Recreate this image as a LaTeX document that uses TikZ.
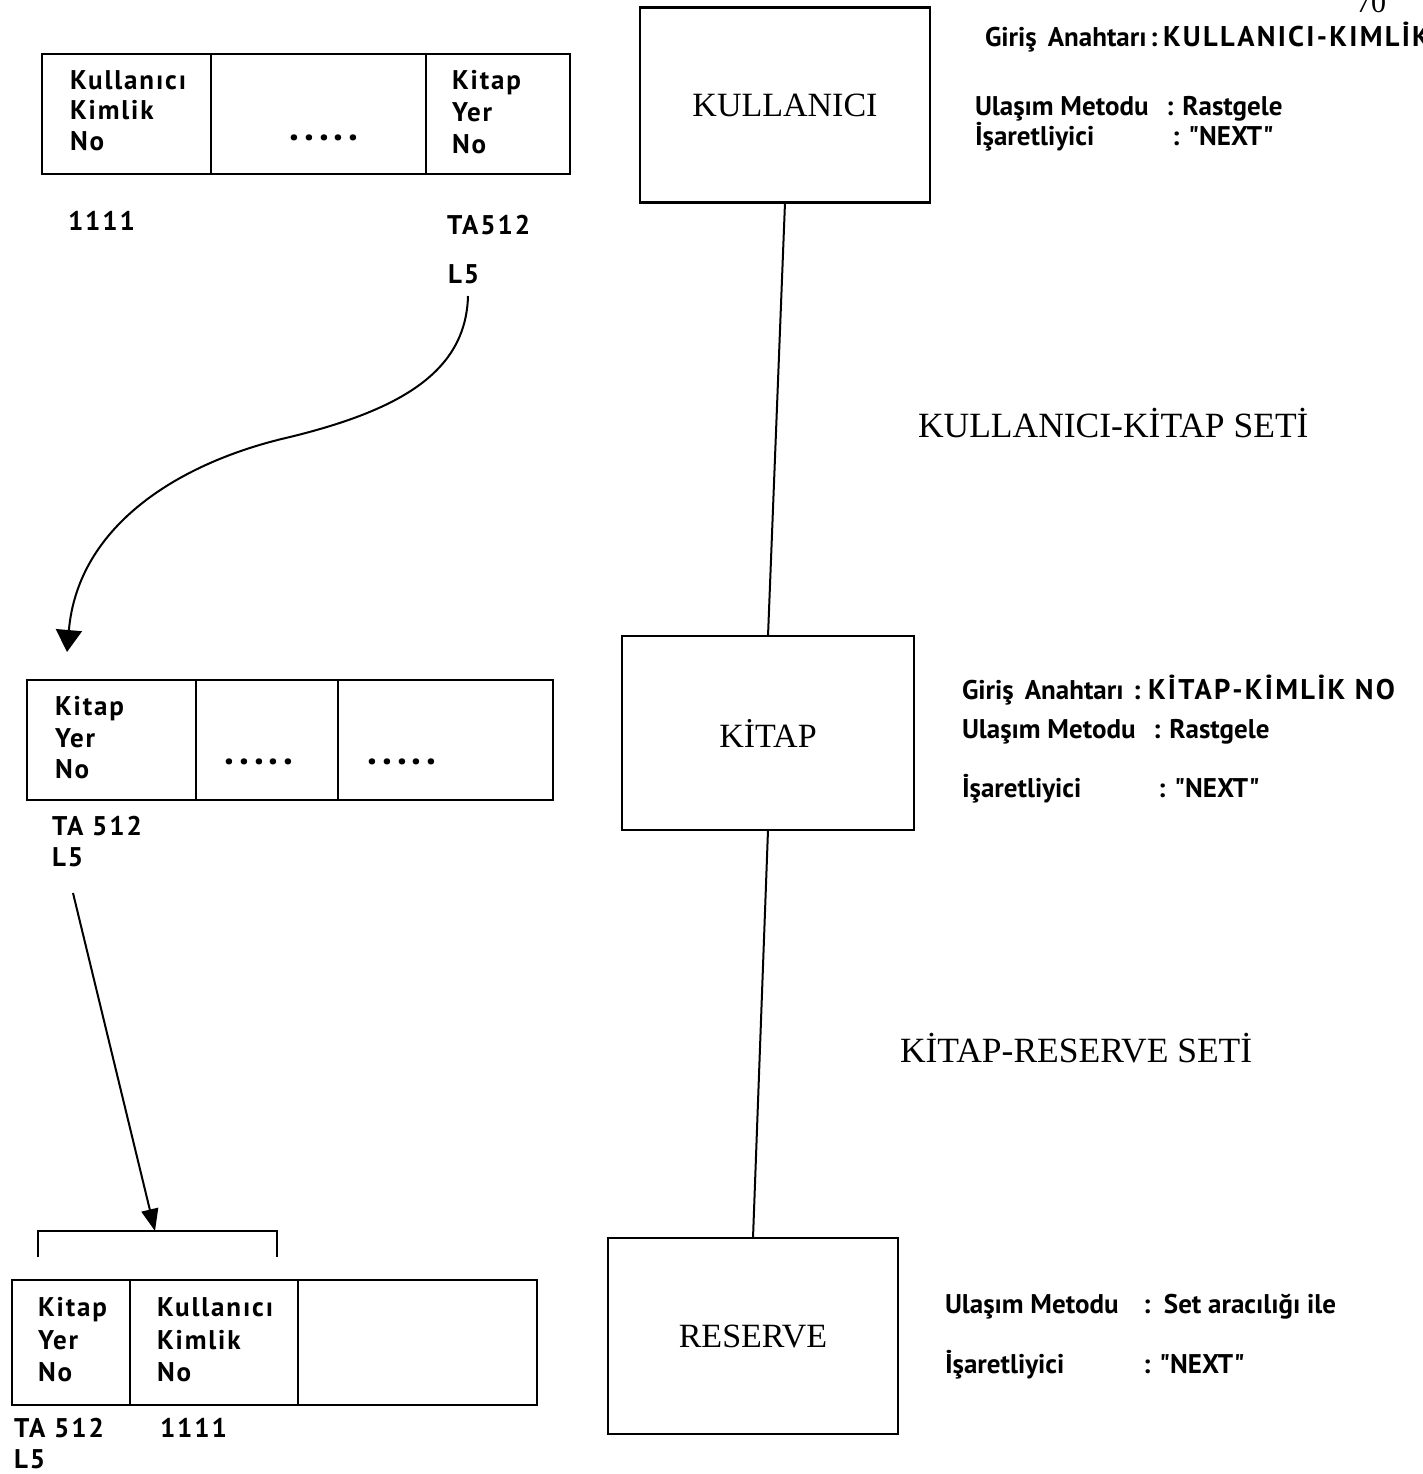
\documentclass[tikz,border=0pt]{standalone}
\usepackage{fontspec}
\setmainfont{Liberation Serif}
\newfontfamily\labfont{PT Sans}
\newfontfamily\fieldfont{PT Sans}[LetterSpace=7]
\newfontfamily\capsfont{PT Sans}[LetterSpace=8]
\usetikzlibrary{arrows.meta}

\begin{document}
\begin{tikzpicture}[x=1pt, y=-1pt,
  every node/.style={inner sep=0pt, outer sep=0pt},
  cell/.style={draw, line width=2.2pt, rectangle},
  ent/.style={draw, line width=2.2pt, rectangle, font=\fontsize{34}{38}\selectfont},
  lab/.style={anchor=base west, font=\fieldfont\bfseries\fontsize{27}{30}\selectfont},
  info/.style={anchor=base west, font=\labfont\bfseries\fontsize{27}{30}\selectfont},
  capsinfo/.style={anchor=base west, font=\capsfont\bfseries\fontsize{28.5}{30}\selectfont},
  settitle/.style={anchor=base west, font=\fontsize{35.5}{40}\selectfont},
  dots/.style={font=\labfont\bfseries\fontsize{40}{40}\selectfont},
  link/.style={line width=2pt},
  bigtip/.style={-{Triangle[length=22pt,width=26pt]}, line width=2pt},
  smalltip/.style={-{Triangle[length=22pt,width=17pt]}, line width=2pt}]

\useasboundingbox (0,0) rectangle (1423,1474);

% ---------------- record: Kullanici ... Kitap Yer No
\node[cell, minimum width=169pt, minimum height=120pt] (ra) at (126.5,114) {};
\node[cell, minimum width=215pt, minimum height=120pt] (rb) at (318.5,114) {};
\node[cell, minimum width=144pt, minimum height=120pt] (rc) at (498,114) {};
\node[lab] (ra1) at (70,90) {Kullanıcı};
\node[lab] (ra2) at (70,120) {Kimlik};
\node[lab] (ra3) at (70,151) {No};
\node[dots] (rbd) at (324,138) {.\kern5pt.\kern5pt.\kern5pt.\kern5pt.};
\node[lab] (rc1) at (452,90) {Kitap};
\node[lab] (rc2) at (452,122) {Yer};
\node[lab] (rc3) at (452,154) {No};
\node[lab] (rav) at (68,230) {1111};
\node[lab] (rcv) at (447,234) {TA512};
\node[lab] (rcl) at (448,283) {L5};

% ---------------- record: Kitap Yer No ... ...
\node[cell, minimum width=169pt, minimum height=120pt] (ma) at (111.5,740) {};
\node[cell, minimum width=142pt, minimum height=120pt] (mb) at (267,740) {};
\node[cell, minimum width=215pt, minimum height=120pt] (mc) at (445.5,740) {};
\node[lab] (ma1) at (55,715) {Kitap};
\node[lab] (ma2) at (55,747) {Yer};
\node[lab] (ma3) at (55,778) {No};
\node[dots] (mbd) at (259,762) {.\kern5pt.\kern5pt.\kern5pt.\kern5pt.};
\node[dots] (mcd) at (402,762) {.\kern5pt.\kern5pt.\kern5pt.\kern5pt.};
\node[lab] (mav) at (52,835) {TA 512};
\node[lab] (mal) at (52,866) {L5};

% ---------------- record: Kitap Yer No | Kullanici Kimlik No | empty
\node[cell, minimum width=118pt, minimum height=125pt] (ba) at (71,1342.5) {};
\node[cell, minimum width=168pt, minimum height=125pt] (bb) at (214,1342.5) {};
\node[cell, minimum width=239pt, minimum height=125pt] (bc) at (417.5,1342.5) {};
\node[lab] (ba1) at (38,1316) {Kitap};
\node[lab] (ba2) at (38,1349) {Yer};
\node[lab] (ba3) at (38,1381) {No};
\node[lab] (bb1) at (157,1316) {Kullanıcı};
\node[lab] (bb2) at (157,1349) {Kimlik};
\node[lab] (bb3) at (157,1381) {No};
\node[lab] (bav) at (14,1437) {TA 512};
\node[lab] (bbv) at (160,1437) {1111};
\node[lab] (bal) at (14,1468) {L5};

% bracket over the two key fields
\coordinate (bkl) at (38,1257);
\coordinate (bkr) at (277,1257);
\coordinate (bkt) at (155,1231);
\draw[link] (bkl) |- (bkt) -| (bkr);

% pointer arrows between the records
\coordinate (pa) at (468,296);
\coordinate (pb) at (67,652);
\draw[bigtip] (pa) .. controls (466,372) and (400,410) .. (290,437)
                  .. controls (180,462) and (78,525) .. (pb);
\coordinate (pc) at (73,893);
\draw[smalltip] (pc) -- (bkt);

% ---------------- record types and their sets
\node[ent, minimum width=290pt, minimum height=195pt] (kul) at (785,105) {KULLANICI};
\node[ent, minimum width=292pt, minimum height=194pt] (kit) at (768,733) {K\.ITAP};
\node[ent, minimum width=290pt, minimum height=196pt] (res) at (753,1336) {RESERVE};
\draw[line width=2pt] (kul.south) -- (kit.north);
\draw[line width=2pt] (kit.south) -- (res.north);

\node[settitle] (s1) at (918,437) {KULLANICI-K\.ITAP SET\.I};
\node[settitle] (s2) at (900,1062) {K\.ITAP-RESERVE SET\.I};

% page number
\node[anchor=base west, font=\fontsize{30}{30}\selectfont] (pg) at (1356,13) {70};

% descriptions of KULLANICI
\node[info] (k1) at (985,47) {Giriş\hspace{11pt}Anahtarı};
\node[info] (k1c) at (1150,47) {:};
\node[capsinfo] (k1v) at (1163,47) {KULLANICI-KIMLİK NO};
\node[info] (k2) at (975,116) {Ulaşım Metodu};
\node[info] (k2v) at (1166,116) {: Rastgele};
\node[info] (k3) at (975,146) {İşaretliyici};
\node[info] (k3v) at (1172,146) {: "NEXT"};

% descriptions of KITAP
\node[info] (t1) at (962,699) {Giriş\hspace{11pt}Anahtarı};
\node[info] (t1c) at (1133,699) {:};
\node[capsinfo] (t1v) at (1148,699) {KİTAP-KİMLİK NO};
\node[info] (t2) at (962,738) {Ulaşım Metodu};
\node[info] (t2v) at (1153,738) {: Rastgele};
\node[info] (t3) at (962,797) {İşaretliyici};
\node[info] (t3v) at (1158,797) {: "NEXT"};

% descriptions of RESERVE
\node[info] (r2) at (945,1313) {Ulaşım Metodu};
\node[info] (r2v) at (1143,1313) {:\ \ Set aracılığı ile};
\node[info] (r3) at (945,1373) {İşaretliyici};
\node[info] (r3v) at (1143,1373) {: "NEXT"};

\end{tikzpicture}
\end{document}
